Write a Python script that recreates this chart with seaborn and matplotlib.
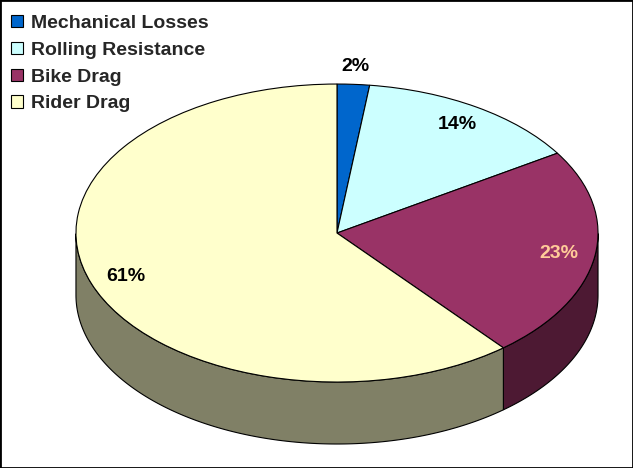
import numpy as np
import matplotlib.pyplot as plt
import seaborn as sns
from matplotlib.patches import Patch, Rectangle

# Data
categories = ["Mechanical Losses", "Rolling Resistance", "Bike Drag", "Rider Drag"]
shares = [2, 14, 23, 61]
top_colors = ["#0066cc", "#ccffff", "#993366", "#ffffcc"]
side_colors = ["#003366", "#668080", "#4d1933", "#808066"]
label_colors = ["black", "black", "#ffcc99", "black"]

sns.set_style("white")
plt.rcParams["font.family"] = ["Liberation Sans", "DejaVu Sans"]

fig = plt.figure(figsize=(6.33, 4.68), dpi=100)
ax = fig.add_axes([0, 0, 1, 1])

# top face of the pie
wedges, _ = ax.pie(shares, colors=top_colors, startangle=90, counterclock=False,
                   wedgeprops=dict(edgecolor="black", linewidth=0.8, zorder=3))

# side walls (front half only)
depth = 0.416
for w, sc in zip(wedges, side_colors):
    t = np.radians(np.linspace(w.theta1, w.theta2, 400))
    t = t[np.sin(t) <= 1e-9]
    if len(t) < 2:
        continue
    xs, ys = np.cos(t), np.sin(t)
    ax.fill(np.concatenate([xs, xs[::-1]]), np.concatenate([ys, ys[::-1] - depth]),
            facecolor=sc, edgecolor="black", linewidth=0.8, zorder=1)

# percentage labels
for w, v, c in zip(wedges, shares, label_colors):
    mid = np.radians((w.theta1 + w.theta2) / 2)
    r = 1.12 if v < 5 else 0.86
    ax.text(r * np.cos(mid), r * np.sin(mid), f"{v}%", ha="center", va="center",
            fontsize=14, fontweight="bold", color=c, zorder=5)

ax.set_aspect("auto")
ax.set_xlim(-1.291, 1.134)
ax.set_ylim(-1.577, 1.564)
ax.axis("off")

handles = [Patch(facecolor=c, edgecolor="black", linewidth=0.8) for c in top_colors]
fig.legend(handles, categories, loc="upper left", bbox_to_anchor=(11 / 633, 1 - 15 / 468),
           frameon=False, prop=dict(weight="bold", size=14), handlelength=0.6,
           handleheight=0.6, handletextpad=0.45, labelspacing=0.5,
           borderaxespad=0, borderpad=0)

fig.add_artist(Rectangle((0, 0), 1, 1, transform=fig.transFigure, fill=False,
                         edgecolor="black", linewidth=2))

fig.savefig("out.png", dpi=100)
